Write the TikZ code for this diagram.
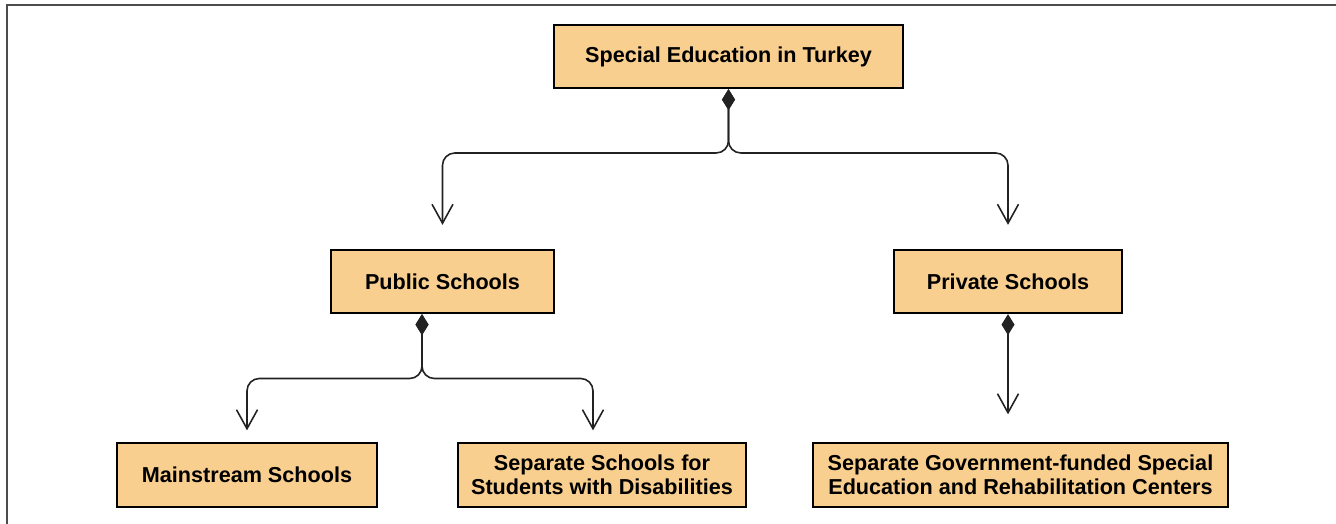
\documentclass[tikz,border=0pt]{standalone}
\usepackage{fontspec}
\setmainfont{Liberation Sans}
\usetikzlibrary{arrows.meta}
\definecolor{boxfill}{HTML}{F9CF8F}
\definecolor{linegray}{HTML}{222222}
\begin{document}
\begin{tikzpicture}[
    box/.style={draw=black,line width=1pt,fill=boxfill,align=center,
      minimum height=1.27cm,inner sep=2pt,
      font=\fontsize{12.3}{13.8}\selectfont\bfseries},
    link/.style={draw=linegray,line width=0.9pt,rounded corners=7pt,
      {Diamond[length=0.42cm,width=0.26cm]}-{Straight Barb[length=0.38cm,width=0.42cm]}}
  ]
  \useasboundingbox (0,0) rectangle (26.72,10.48);
  \draw[black!70,line width=1.2pt] (0.14,0) |- (26.72,10.38);

  \begin{scope}[every node/.style=box]
    \node[minimum width=6.98cm] (turkey) at (14.57,9.35) {Special Education in Turkey};
    \node[minimum width=4.46cm] (pub)    at (8.85,4.85)  {Public Schools};
    \node[minimum width=4.56cm] (priv)   at (20.16,4.85) {Private Schools};
    \node[minimum width=5.2cm]  (main)   at (4.94,0.98)  {Mainstream Schools};
    \node[minimum width=5.76cm] (sep)    at (12.04,0.98) {Separate Schools for\\Students with Disabilities};
    \node[minimum width=8.3cm]  (gov)    at (20.41,0.98) {Separate Government-funded Special\\Education and Rehabilitation Centers};
  \end{scope}

  \coordinate (hub1) at (14.52,7.42);
  \coordinate (hub2) at (8.44,2.91);

  \begin{scope}[every path/.style=link]
    \draw[shorten >=0.48cm] (turkey.south) |- (pub.north |- hub1) -- (pub.north);
    \draw[shorten >=0.48cm] (turkey.south) |- (priv.north |- hub1) -- (priv.north);
    \draw[shorten >=0.24cm] ([xshift=-0.41cm]pub.south) |- (main.north |- hub2) -- (main.north);
    \draw[shorten >=0.24cm] ([xshift=-0.41cm]pub.south) |- ([xshift=-0.18cm]sep.north |- hub2) -- ([xshift=-0.18cm]sep.north);
    \draw[shorten >=0.56cm] (priv.south) -- (priv.south |- gov.north);
  \end{scope}

\end{tikzpicture}
\end{document}
